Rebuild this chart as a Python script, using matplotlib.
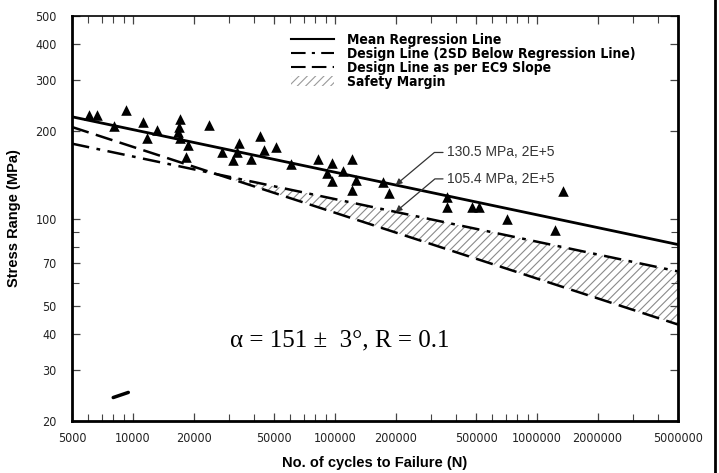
import numpy as np
import matplotlib.pyplot as plt
from matplotlib.lines import Line2D
from matplotlib.patches import Patch
from matplotlib.ticker import FixedLocator, NullFormatter

# --- test data: cycles to failure and stress range ---
cycles = [6090, 6670, 9260, 8070, 11200, 11700, 13200, 17100, 17000, 16800,
          17100, 18800, 18300, 23900, 27600, 33700, 32900, 31400, 38300, 42600,
          44600, 51200, 60500, 82900, 97200, 121000, 91200, 110000, 97200, 128000,
          121000, 174000, 186000, 358000, 358000, 476000, 519000, 710000, 1343000, 1230000]
stress = [228, 228, 236, 209, 215, 189, 202, 220, 207, 199,
          190, 179, 163, 210, 170, 182, 170, 159, 160, 192,
          172, 177, 154, 161, 156, 161, 143, 146, 135, 136,
          125, 134, 122, 119, 110, 110, 110, 100, 124, 91]

# --- S-N line parameters ---
n_ref = 2e5            # reference life for the quoted strengths
s_mean_ref = 130.5     # mean regression line at 2E+5 (MPa)
s_design_ref = 105.4   # 2SD below regression at 2E+5 (MPa)
b_reg = 0.147          # regression slope (log S vs log N)
n_cross = 26000        # EC9 slope line meets the design line here
m_ec9 = 4.4            # EC9 inverse slope

x_ticks = [5000, 10000, 20000, 50000, 100000, 200000, 500000, 1000000, 2000000, 5000000]
y_ticks = [20, 30, 40, 50, 70, 100, 200, 300, 400, 500]
y_minor = [60, 80, 90]

smudge_n = [8000, 9500]
smudge_s = [24.1, 25.1]

narrow = {'family': 'DejaVu Sans', 'stretch': 'condensed'}


def sn_line(n, s_ref, n0, slope):
    return s_ref * (np.asarray(n) / n0) ** (-slope)


fig = plt.figure(figsize=(7.19, 4.73), dpi=100)
ax = fig.add_axes([72 / 719, 52 / 473, 606 / 719, 405 / 473])

n_line = np.geomspace(5000, 5e6, 200)
s_mean = sn_line(n_line, s_mean_ref, n_ref, b_reg)
s_design = sn_line(n_line, s_design_ref, n_ref, b_reg)
s_cross = sn_line(n_cross, s_design_ref, n_ref, b_reg)
s_ec9 = sn_line(n_line, s_cross, n_cross, 1 / m_ec9)

# safety margin between the design line and the EC9 slope line
plt.rcParams['hatch.linewidth'] = 0.8
plt.rcParams['hatch.color'] = '#8a8a8a'
mask = n_line >= n_cross
ax.fill_between(n_line[mask], s_ec9[mask], s_design[mask], facecolor='none',
                edgecolor='#8a8a8a', hatch='////', linewidth=0)

dashdot = (0, (7, 3, 1.5, 3))
dashed = (0, (7, 3))
ax.plot(n_line, s_mean, color='black', lw=2.0)
ax.plot(n_line, s_design, color='black', lw=1.8, linestyle=dashdot)
ax.plot(n_line, s_ec9, color='black', lw=1.8, linestyle=dashed)
ax.scatter(cycles, stress, marker='^', s=58, color='black', zorder=5, linewidths=0)

ax.plot(smudge_n, smudge_s, color='black', lw=2.5, solid_capstyle='round')

ax.set_xscale('log')
ax.set_yscale('log')
ax.set_xlim(5000, 5e6)
ax.set_ylim(20, 500)

ax.xaxis.set_major_locator(FixedLocator(x_ticks))
ax.set_xticklabels([str(v) for v in x_ticks])
minor_x = [k * 10 ** e for e in range(3, 7) for k in range(2, 10)]
ax.xaxis.set_minor_locator(FixedLocator([v for v in minor_x if 5000 < v < 5e6 and v not in x_ticks]))
ax.xaxis.set_minor_formatter(NullFormatter())
ax.yaxis.set_major_locator(FixedLocator(y_ticks))
ax.set_yticklabels([str(v) for v in y_ticks])
ax.yaxis.set_minor_locator(FixedLocator(y_minor))
ax.yaxis.set_minor_formatter(NullFormatter())

ax.tick_params(which='both', direction='in', top=True, right=True, colors='#444444',
               labelcolor='#222222')
ax.tick_params(which='major', length=6, width=0.9)
ax.tick_params(which='minor', length=5, width=0.8)
ax.tick_params(axis='x', pad=8)
ax.tick_params(axis='y', pad=11)
for lab in ax.get_xticklabels() + ax.get_yticklabels():
    lab.set_family(narrow['family'])
    lab.set_stretch(narrow['stretch'])
    lab.set_fontsize(9)

for side in ['left', 'bottom', 'right']:
    ax.spines[side].set_linewidth(2.0)
ax.spines['top'].set_linewidth(1.2)

ax.set_xlabel('No. of cycles to Failure (N)', fontsize=10.5, fontweight='bold',
              family=['Liberation Sans', 'DejaVu Sans'], labelpad=8)
ax.set_ylabel('Stress Range (MPa)', fontsize=10.5, fontweight='bold',
              family=['Liberation Sans', 'DejaVu Sans'], labelpad=10)

handles = [
    Line2D([], [], color='black', lw=1.5),
    Line2D([], [], color='black', lw=1.5, linestyle=dashdot),
    Line2D([], [], color='black', lw=1.5, linestyle=dashed),
    Patch(facecolor='white', edgecolor='#9a9a9a', hatch='////', linewidth=0),
]
labels = ['Mean Regression Line', 'Design Line (2SD Below Regression Line)',
          'Design Line as per EC9 Slope', 'Safety Margin']
leg = ax.legend(handles, labels, loc='upper left', bbox_to_anchor=(0.34, 0.99),
                frameon=False, handlelength=3.1, handletextpad=1.0, labelspacing=0.0,
                prop={'family': narrow['family'], 'stretch': narrow['stretch'],
                      'weight': 'bold', 'size': 10})

arrow = dict(arrowstyle='-|>', color='#333333', lw=0.9, mutation_scale=9,
             shrinkA=1, shrinkB=0, connectionstyle='angle,angleA=0,angleB=40,rad=0')
ax.annotate('130.5 MPa, 2E+5', xy=(n_ref, s_mean_ref), xytext=(360000, 169),
            fontsize=10, color='#333333', va='center', arrowprops=arrow,
            family=['Liberation Sans', 'DejaVu Sans'])
ax.annotate('105.4 MPa, 2E+5', xy=(n_ref, s_design_ref), xytext=(360000, 137),
            fontsize=10, color='#333333', va='center', arrowprops=arrow,
            family=['Liberation Sans', 'DejaVu Sans'])

ax.text(30300, 38, 'α = 151 ±  3°, R = 0.1', fontsize=18,
        family=['Liberation Serif', 'DejaVu Serif'], va='center')

# outer border on the right edge of the page
fig.add_artist(Line2D([0.994, 0.994], [0, 1], color='black', lw=2, transform=fig.transFigure))

fig.savefig('out.png', dpi=100)
